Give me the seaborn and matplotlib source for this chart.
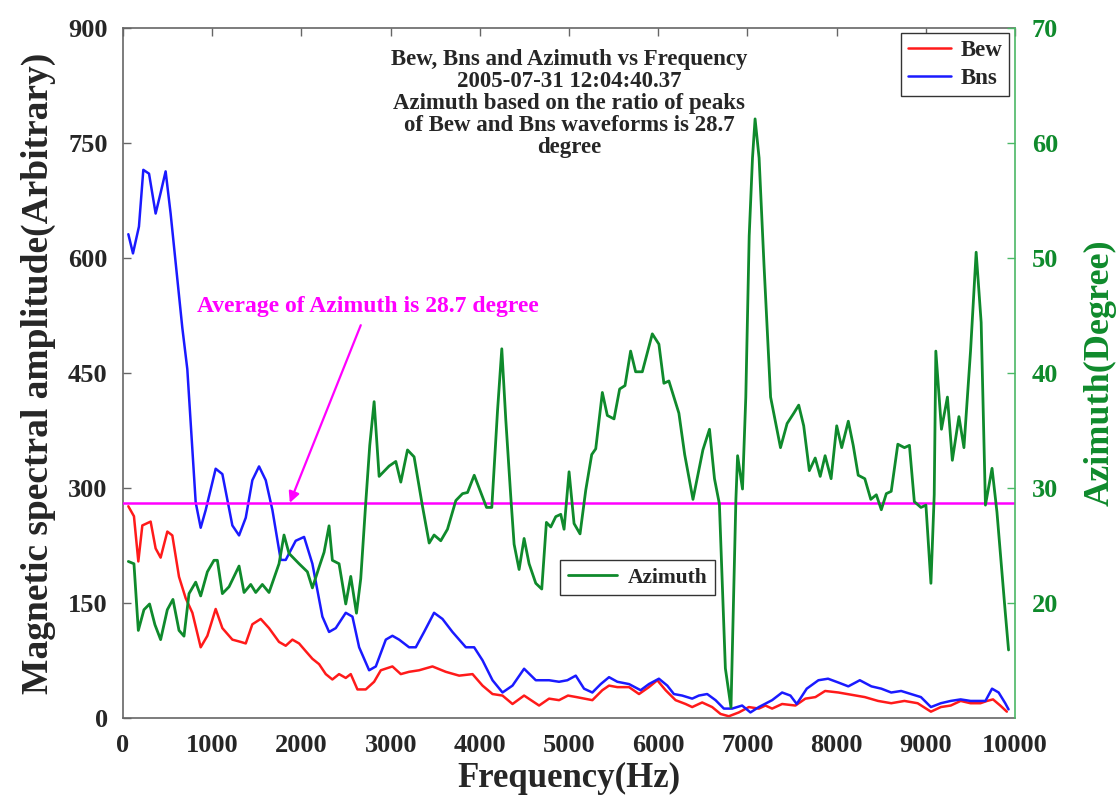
import matplotlib
matplotlib.use("Agg")
import matplotlib.pyplot as plt
import seaborn as sns

# --- data -------------------------------------------------------------
bew_freq = [60, 123, 172, 217, 310, 366, 422, 497, 553, 628, 703, 778, 871, 946, 1039,
            1114, 1226, 1320, 1376, 1450, 1544, 1637, 1749, 1824, 1899, 1974, 2048, 2123,
            2198, 2273, 2347, 2422, 2497, 2553, 2628, 2721, 2815, 2890, 3020, 3114, 3207,
            3319, 3469, 3618, 3768, 3918, 4030, 4142, 4254, 4366, 4496, 4664, 4776, 4888,
            4988, 5084, 5261, 5373, 5448, 5541, 5672, 5784, 5895, 5989, 6082, 6194, 6306,
            6380, 6492, 6604, 6698, 6791, 6903, 7015, 7127, 7201, 7276, 7388, 7537, 7649,
            7761, 7870, 8019, 8167, 8315, 8463, 8611, 8759, 8907, 9056, 9167, 9278, 9389,
            9500, 9611, 9685, 9752, 9833, 9907]
bew_amp = [276, 263, 204, 251, 256, 221, 209, 243, 238, 184, 156, 137, 92, 107, 142,
           117, 102, 99, 97, 122, 129, 117, 99, 94, 102, 97, 87, 77,
           70, 57, 50, 57, 52, 57, 37, 37, 47, 62, 67, 57, 60,
           62, 67, 60, 55, 57, 42, 31, 29, 18, 29, 16, 25, 23,
           29, 27, 23, 36, 42, 40, 40, 31, 40, 49, 36, 23, 18,
           14, 20, 14, 5, 2, 7, 14, 12, 16, 12, 18, 16, 25,
           27, 35, 33, 30, 27, 22, 19, 22, 19, 8, 14, 16, 22,
           19, 19, 22, 24, 16, 8]

bns_freq = [60, 112, 179, 228, 292, 366, 422, 478, 534, 665, 721, 815, 871, 927, 1039,
            1114, 1226, 1301, 1376, 1450, 1525, 1600, 1675, 1768, 1824, 1936, 2030, 2123,
            2235, 2310, 2385, 2497, 2572, 2647, 2759, 2834, 2946, 3020, 3095, 3207, 3282,
            3375, 3487, 3581, 3693, 3843, 3936, 4030, 4142, 4254, 4366, 4496, 4627, 4776,
            4888, 4981, 5075, 5168, 5261, 5355, 5448, 5541, 5672, 5802, 5895, 6007, 6101,
            6175, 6268, 6380, 6455, 6548, 6642, 6735, 6828, 6940, 7033, 7127, 7276, 7388,
            7481, 7552, 7664, 7795, 7903, 8019, 8130, 8259, 8389, 8500, 8611, 8722, 8833,
            8944, 9056, 9167, 9278, 9389, 9500, 9593, 9667, 9741, 9815, 9889, 9926]
bns_amp = [631, 606, 641, 715, 710, 658, 685, 713, 658, 509, 455, 281, 248, 271, 325,
           318, 251, 238, 261, 310, 328, 310, 271, 206, 206, 231, 236, 201,
           132, 112, 117, 137, 132, 92, 62, 67, 102, 107, 102, 92, 92,
           112, 137, 129, 112, 92, 92, 75, 49, 33, 42, 64, 49, 49,
           47, 49, 55, 38, 33, 44, 53, 47, 44, 36, 44, 51, 42,
           31, 29, 25, 29, 31, 23, 12, 12, 16, 7, 14, 23, 33,
           29, 18, 38, 49, 51, 46, 41, 49, 41, 38, 33, 35, 31,
           27, 14, 19, 22, 24, 22, 22, 22, 38, 33, 19, 11]

azi_freq = [60, 123, 172, 235, 298, 358, 422, 497, 560, 628, 684, 740, 815, 871, 946,
            1020, 1058, 1114, 1189, 1301, 1357, 1432, 1488, 1562, 1637, 1749, 1805, 1861,
            1974, 2067, 2123, 2198, 2254, 2310, 2347, 2422, 2497, 2553, 2617, 2665, 2721,
            2766, 2815, 2871, 2983, 3058, 3114, 3189, 3263, 3357, 3432, 3487, 3562, 3637,
            3731, 3806, 3862, 3937, 4011, 4075, 4134, 4198, 4246, 4291, 4347, 4384, 4440,
            4496, 4552, 4627, 4694, 4746, 4795, 4851, 4907, 4944, 5000, 5056, 5123, 5187,
            5254, 5299, 5373, 5429, 5504, 5567, 5627, 5690, 5746, 5821, 5933, 6007, 6063,
            6119, 6231, 6296, 6389, 6500, 6574, 6630, 6685, 6752, 6815, 6870, 6889, 6944,
            6981, 7019, 7056, 7085, 7130, 7185, 7259, 7370, 7444, 7519, 7574, 7630, 7693,
            7759, 7815, 7870, 7937, 8000, 8056, 8130, 8185, 8241, 8315, 8382, 8444, 8500,
            8556, 8611, 8685, 8759, 8815, 8870, 8944, 9000, 9056, 9093, 9111, 9174, 9241,
            9296, 9370, 9426, 9500, 9563, 9619, 9667, 9741, 9796, 9889, 9926]
azi_deg = [23.6, 23.4, 17.6, 19.4, 19.9, 18.1, 16.8, 19.4, 20.3, 17.6, 17.1, 20.8, 21.8, 20.6, 22.7,
           23.7, 23.7, 20.8, 21.4, 23.2, 20.9, 21.6, 20.9, 21.6, 20.9, 23.4, 25.9, 24.3,
           23.4, 22.7, 21.3, 23.1, 24.4, 26.7, 23.7, 23.4, 19.9, 22.3, 19.1, 22.1, 28.7,
           33.7, 37.5, 31.0, 31.9, 32.3, 30.5, 33.3, 32.7, 28.4, 25.2, 25.9, 25.4, 26.4,
           28.9, 29.5, 29.6, 31.1, 29.6, 28.3, 28.3, 36.7, 42.1, 35.9, 29.2, 25.1, 22.9,
           25.6, 23.4, 21.7, 21.2, 27.0, 26.6, 27.5, 27.7, 26.4, 31.4, 26.9, 26.0, 29.8,
           32.9, 33.4, 38.3, 36.3, 36.0, 38.6, 38.9, 41.9, 40.1, 40.1, 43.4, 42.5, 39.1,
           39.3, 36.5, 32.9, 29.0, 33.3, 35.1, 30.8, 28.6, 14.3, 10.9, 29.0, 32.8, 29.9,
           37.9, 51.9, 58.7, 62.1, 58.7, 49.4, 37.9, 33.5, 35.6, 36.5, 37.2, 35.4, 31.5,
           32.6, 31.0, 32.8, 30.8, 35.4, 33.5, 35.8, 33.7, 31.1, 30.8, 29.0, 29.4, 28.1,
           29.5, 29.7, 33.8, 33.5, 33.7, 28.8, 28.3, 28.5, 21.7, 29.4, 41.9, 35.1, 37.9,
           32.4, 36.2, 33.5, 41.9, 50.5, 44.4, 28.5, 31.7, 27.9, 19.2, 15.9]

avg_azimuth = 28.7

amp_ticks = [0, 150, 300, 450, 600, 750, 900]
deg_ticks = [20, 30, 40, 50, 60, 70]
freq_ticks = [0, 1000, 2000, 3000, 4000, 5000, 6000, 7000, 8000, 9000, 10000]

title_lines = ["Bew, Bns and Azimuth vs Frequency",
               "2005-07-31 12:04:40.37",
               "Azimuth based on the ratio of peaks",
               "of Bew and Bns waveforms is 28.7",
               "degree"]

# --- style ------------------------------------------------------------
sns.set_theme(style="white")
plt.rcParams["font.family"] = ["Liberation Serif", "DejaVu Serif"]
plt.rcParams["font.weight"] = "bold"

RED = "#ff1a1a"
BLUE = "#1a1aff"
GREEN = "#0f8a2c"
GREEN_SPINE = "#4cb866"
MAGENTA = "#ff00ff"
SPINE = "#666666"

fig = plt.figure(figsize=(11.18, 8.02), dpi=100)
ax = fig.add_axes([0.110, 0.105, 0.798, 0.860])
ax2 = ax.twinx()

sns.lineplot(x=bew_freq, y=bew_amp, ax=ax, color=RED, lw=1.8, label="Bew",
             estimator=None, sort=False)
sns.lineplot(x=bns_freq, y=bns_amp, ax=ax, color=BLUE, lw=1.8, label="Bns",
             estimator=None, sort=False)
sns.lineplot(x=azi_freq, y=azi_deg, ax=ax2, color=GREEN, lw=2.0, label="Azimuth",
             estimator=None, sort=False)
ax2.axhline(avg_azimuth, color=MAGENTA, lw=1.8, zorder=1)

ax.set_xlim(0, 10000)
ax.set_ylim(0, 900)
ax2.set_ylim(10, 70)
ax.set_xticks(freq_ticks)
ax.set_yticks(amp_ticks)
ax2.set_yticks(deg_ticks)

ax.tick_params(axis="both", direction="in", length=6, width=1, color=SPINE,
               labelsize=19, top=True)
ax.tick_params(axis="x", pad=12)
ax.tick_params(axis="y", pad=11, right=False)
ax2.tick_params(axis="y", direction="in", length=6, width=1, color=GREEN_SPINE,
                labelcolor=GREEN, labelsize=19, pad=12)
for lab in ax.get_xticklabels() + ax.get_yticklabels() + ax2.get_yticklabels():
    lab.set_fontweight("bold")

for side in ["left", "bottom", "top"]:
    ax.spines[side].set_color(SPINE)
    ax.spines[side].set_linewidth(1.2)
ax.spines["right"].set_visible(False)
for side in ["left", "bottom", "top"]:
    ax2.spines[side].set_visible(False)
ax2.spines["right"].set_color(GREEN_SPINE)
ax2.spines["right"].set_linewidth(1.2)

ax.set_xlabel("Frequency(Hz)", fontsize=25, fontweight="bold", labelpad=3)
ax.set_ylabel("Magnetic spectral amplitude(Arbitrary)", fontsize=27,
              fontweight="bold", labelpad=9)
ax2.set_ylabel("Azimuth(Degree)", fontsize=26, fontweight="bold", color=GREEN,
               labelpad=18)

# legends
leg1 = ax.legend(loc="upper right", bbox_to_anchor=(0.993, 0.993), fancybox=False,
                 edgecolor="#333333", framealpha=1, handlelength=1.9,
                 borderpad=0.3, labelspacing=0.3, handletextpad=0.4,
                 borderaxespad=0, prop={"weight": "bold", "size": 16.5})
leg1.get_frame().set_linewidth(1.0)
leg2 = ax2.legend(loc="center", bbox_to_anchor=(0.577, 0.203), fancybox=False,
                  edgecolor="#333333", framealpha=1, handlelength=2.3,
                  borderpad=0.35, handletextpad=0.5, borderaxespad=0,
                  prop={"weight": "bold", "size": 15.5})
leg2.get_frame().set_linewidth(1.0)

# title block inside the axes
ax.text(5000, 873, "\n".join(title_lines), ha="center", va="top", fontsize=16.5,
        fontweight="bold", linespacing=1.07, zorder=5)

# average annotation
ax2.annotate("Average of Azimuth is 28.7 degree", xy=(1870, avg_azimuth),
             xytext=(2750, 45.8), ha="center", va="center", color=MAGENTA,
             fontsize=17, fontweight="bold",
             arrowprops=dict(arrowstyle="-|>", color=MAGENTA, lw=1.6,
                             mutation_scale=16, shrinkA=4, shrinkB=0))

fig.savefig("out.png", dpi=100)
